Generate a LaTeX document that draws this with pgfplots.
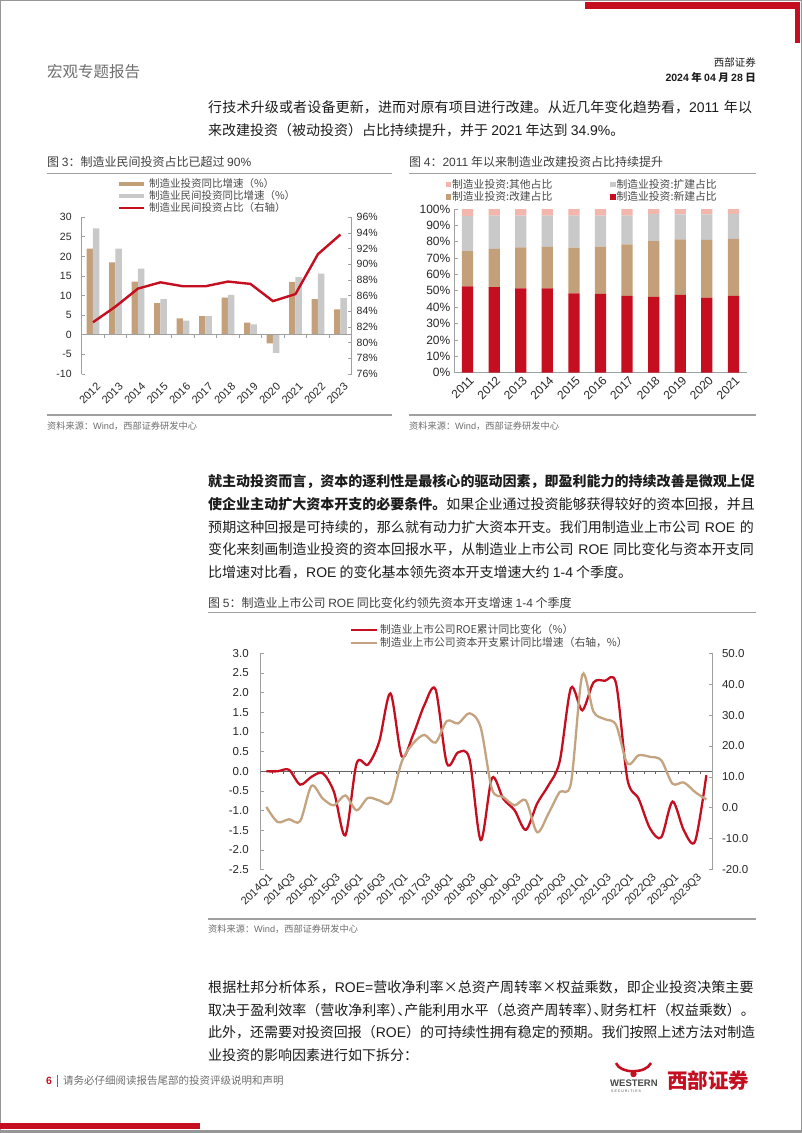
\documentclass[border=0pt]{standalone}
\usepackage{fontspec}
\setmainfont{Liberation Sans}
\newfontfamily\cjk{Noto Sans CJK SC}
\newfontfamily\cjkhalt[RawFeature=+halt]{Noto Sans CJK SC}
\usepackage{pgfplots}
\pgfplotsset{compat=1.18}

\XeTeXlinebreaklocale "zh"
\XeTeXlinebreakskip=0pt plus 1.5pt minus 0.8pt

\definecolor{wred}{RGB}{197,14,31}
\definecolor{tanbar}{RGB}{196,160,122}
\definecolor{lgray}{RGB}{201,201,201}
\definecolor{pinkbar}{RGB}{242,182,172}
\definecolor{tanline}{RGB}{196,164,128}
\definecolor{axisgray}{RGB}{160,160,160}
\definecolor{zerogray}{RGB}{100,100,100}
\definecolor{ink}{RGB}{28,28,28}
\definecolor{ticktext}{RGB}{40,40,40}
\definecolor{softgray}{RGB}{110,110,110}
\definecolor{pagegray}{RGB}{150,150,150}

\newcommand\en[1]{{\rmfamily #1}}
\newcommand\body{\cjk\fontsize{14}{16}\selectfont}
% one justified line of body text
\newcommand\jline[2]{\node[anchor=west,inner sep=0pt,text width=547pt,font=\body,text=ink] at (208,#1) {\noindent\parfillskip=0pt #2\par};}
% last (ragged) line of a paragraph
\newcommand\lline[2]{\node[anchor=west,inner sep=0pt,font=\body,text=ink] at (208,#1) {#2};}

\pgfplotsset{
  chart/.style={
    scale only axis,
    /pgf/number format/assume math mode=true,
    tick label style={font=\fontsize{10.5}{12}\selectfont, text=ticktext},
    separate axis lines,
    axis line style={draw=axisgray, line width=0.8pt},
    tick style={draw=axisgray, line width=0.8pt},
    major tick length=3.5pt,
    tick align=inside,
  },
  catx/.style={
    x axis line style={draw=none},
    xtick style={draw=none},
    xticklabel style={rotate=45, anchor=east, inner sep=1pt},
  },
}

\begin{document}
\begin{tikzpicture}
\begin{scope}[x=1pt,y=-1pt]
\path[use as bounding box] (0,0) rectangle (802,1133);
\fill[white] (0,0) rectangle (802,1133);
\draw[pagegray, line width=1pt] (0.5,0.5) rectangle (801.5,1132.5);
% top decoration
\fill[wred] (585,2) rectangle (800,9);
\fill[wred] (794.5,2) rectangle (800,43);
% header
\node[anchor=west,inner sep=0pt,font=\cjk\fontsize{15.5}{17}\selectfont,text=softgray] at (47,72) {宏观专题报告};
\node[anchor=east,inner sep=0pt,font=\cjk\fontsize{10.5}{12}\selectfont,text=ink] at (756,62) {西部证券};
\node[anchor=east,inner sep=0pt,font=\cjk\bfseries\fontsize{10.5}{12}\selectfont,text=ink] at (756,77) {\en{2024} 年 \en{04} 月 \en{28} 日};

% paragraph 1
\jline{107}{行技术升级或者设备更新，进而对原有项目进行改建。从近几年变化趋势看，\en{2011} 年以}
\lline{130}{来改建投资（被动投资）占比持续提升，并于 \en{2021} 年达到 \en{34.9\%}。}

% figure 3 / 4 frames
\node[anchor=west,inner sep=0pt,font=\cjk\fontsize{12}{13}\selectfont,text=ink!85] at (47,162) {图 \en{3}：制造业民间投资占比已超过 \en{90\%}};
\node[anchor=west,inner sep=0pt,font=\cjk\fontsize{12}{13}\selectfont,text=ink!85] at (409,162) {图 \en{4}：\en{2011} 年以来制造业改建投资占比持续提升};
\draw[axisgray, line width=0.8pt] (47,173.3) -- (392,173.3);
\draw[axisgray, line width=0.8pt] (409,173.3) -- (756,173.3);
\draw[axisgray, line width=1.6pt] (47,415) -- (392,415);
\draw[axisgray, line width=1.6pt] (409,415) -- (756,415);
\node[anchor=west,inner sep=0pt,font=\cjk\fontsize{9.2}{10}\selectfont,text=softgray] at (47,426) {资料来源：\en{Wind}，西部证券研发中心};
\node[anchor=west,inner sep=0pt,font=\cjk\fontsize{9.2}{10}\selectfont,text=softgray] at (409,426) {资料来源：\en{Wind}，西部证券研发中心};

% paragraph 2
\jline{482}{\bfseries 就主动投资而言，资本的逐利性是最核心的驱动因素，即盈利能力的持续改善是微观上促}
\jline{504.5}{{\bfseries 使企业主动扩大资本开支的必要条件。}如果企业通过投资能够获得较好的资本回报，并且}
\jline{527}{预期这种回报是可持续的，那么就有动力扩大资本开支。我们用制造业上市公司 \en{ROE} 的}
\jline{549.5}{变化来刻画制造业投资的资本回报水平，从制造业上市公司 \en{ROE} 同比变化与资本开支同}
\lline{572}{比增速对比看，\en{ROE} 的变化基本领先资本开支增速大约 \en{1-4} 个季度。}

% figure 5 frame
\node[anchor=west,inner sep=0pt,font=\cjk\fontsize{12}{13}\selectfont,text=ink!85] at (208,603) {图 \en{5}：制造业上市公司 \en{ROE} 同比变化约领先资本开支增速 \en{1-4} 个季度};
\draw[axisgray, line width=0.8pt] (208,612.5) -- (756,612.5);
\draw[axisgray, line width=1.6pt] (208,919) -- (756,919);
\node[anchor=west,inner sep=0pt,font=\cjk\fontsize{9.2}{10}\selectfont,text=softgray] at (208,929) {资料来源：\en{Wind}，西部证券研发中心};

% paragraph 3
\jline{987}{根据杜邦分析体系，\en{ROE=}营收净利率×总资产周转率×权益乘数，即企业投资决策主要}
\jline{1010}{取决于盈利效率（营收净利率{\cjkhalt ）、}产能利用水平（总资产周转率{\cjkhalt ）、}财务杠杆（权益乘数）。}
\jline{1032.5}{此外，还需要对投资回报（\en{ROE}）的可持续性拥有稳定的预期。我们按照上述方法对制造}
\lline{1055}{业投资的影响因素进行如下拆分：}

% footer
\node[anchor=west,inner sep=0pt,font=\bfseries\fontsize{10.5}{12}\selectfont,text=wred] at (46,1081) {6};
\draw[softgray, line width=0.9pt] (57,1075) -- (57,1087);
\node[anchor=west,inner sep=0pt,font=\cjk\fontsize{10.5}{12}\selectfont,text=softgray] at (63,1081) {请务必仔细阅读报告尾部的投资评级说明和声明};
\draw[wred, line width=2.6pt] (616,1063) .. controls (620,1074) and (646,1074) .. (651,1063);
\fill[wred] (633.5,1074) circle (3.2pt);
\node[anchor=west,inner sep=0pt,font=\bfseries\fontsize{9.5}{10}\selectfont,text=ink!80] at (610,1083) {WESTERN};
\node[anchor=west,inner sep=0pt,font=\fontsize{3.5}{4}\selectfont,text=ink!80] at (611,1091) {S E C U R I T I E S};
\node[anchor=west,inner sep=0pt,font=\cjk\bfseries\fontsize{20.5}{22}\selectfont,text=wred] at (667,1081) {西部证券};
% bottom decoration
\fill[wred] (0,1123) rectangle (200,1129);
\fill[pagegray] (0,1129.5) rectangle (802,1131.5);
\end{scope}

% ---------- Figure 3 ----------
\begin{axis}[chart, catx,
  at={(81.7pt,-374pt)}, anchor=south west,
  width=270pt, height=156.7pt,
  xmin=-0.5, xmax=11.5, ymin=-10, ymax=30,
  axis lines*=left,
  xtick={0,...,11},
  xticklabels={2012,2013,2014,2015,2016,2017,2018,2019,2020,2021,2022,2023},
  xticklabel style={font=\fontsize{11}{12}\selectfont, yshift=-9pt},
  ytick={-10,-5,...,30},
  yticklabel style={xshift=-6.5pt},
  ybar=0pt, bar width=6.3pt,
]
\addplot[fill=tanbar, draw=none] coordinates {(0,22.0)(1,18.5)(2,13.6)(3,8.1)(4,4.2)(5,4.8)(6,9.5)(7,3.1)(8,-2.2)(9,13.5)(10,9.1)(11,6.5)};
\addplot[fill=lgray, draw=none] coordinates {(0,27.2)(1,22.0)(2,16.9)(3,9.1)(4,3.6)(5,4.8)(6,10.2)(7,2.7)(8,-4.6)(9,14.7)(10,15.6)(11,9.4)};
\draw[axisgray, line width=0.8pt] (axis cs:-0.5,0) -- (axis cs:11.5,0);
\pgfplotsinvokeforeach{0,...,10}{\draw[axisgray, line width=0.8pt] (axis cs:#1.5,0) -- ++(0pt,-3pt);}
\end{axis}
\begin{axis}[chart,
  at={(81.7pt,-374pt)}, anchor=south west,
  width=270pt, height=156.7pt,
  xmin=-0.5, xmax=11.5, ymin=76, ymax=96,
  axis y line*=right, axis x line=none,
  ytick={76,78,...,96},
  yticklabel={\pgfmathprintnumber{\tick}\%},
  yticklabel style={xshift=1.5pt},
  legend cell align=left,
  legend style={at={(0.133,1.252)}, anchor=north west, draw=none, fill=none,
    inner sep=0pt, row sep=0pt, nodes={inner sep=0.8pt},
    /tikz/every odd column/.append style={column sep=3pt},
    font=\cjk\fontsize{10.5}{11}\selectfont, text=ink!80},
]
\addlegendimage{fill=tanbar, draw=none, legend image code/.code={\fill (0pt,-2.2pt) rectangle (25pt,2.2pt);}}
\addlegendentry{制造业投资同比增速（\%）}
\addlegendimage{fill=lgray, draw=none, legend image code/.code={\fill (0pt,-2.2pt) rectangle (25pt,2.2pt);}}
\addlegendentry{制造业民间投资同比增速（\%）}
\addplot[wred, line width=2.4pt, legend image code/.code={\draw (0pt,0pt) -- (25pt,0pt);}] coordinates {(0,82.6)(1,84.6)(2,86.9)(3,87.7)(4,87.2)(5,87.2)(6,87.8)(7,87.5)(8,85.3)(9,86.2)(10,91.3)(11,93.8)};
\addlegendentry{制造业民间投资占比（右轴）}
\end{axis}

% ---------- Figure 4 ----------
\begin{axis}[chart,
  at={(454.3pt,-372.7pt)}, anchor=south west,
  width=292.4pt, height=163.7pt,
  ybar stacked, bar width=11.3pt,
  xmin=-0.5, xmax=10.5, ymin=0, ymax=100,
  axis lines*=left,
  xtick={0,...,10},
  xticklabels={2011,2012,2013,2014,2015,2016,2017,2018,2019,2020,2021},
  xtick style={draw=none},
  xticklabel style={rotate=45, anchor=east, inner sep=1pt, font=\fontsize{12}{13}\selectfont, yshift=-7pt},
  ytick={0,10,...,100},
  yticklabel={\pgfmathprintnumber{\tick}\%},
  yticklabel style={font=\fontsize{12}{13}\selectfont, xshift=-0.5pt},
  reverse legend, legend columns=2, legend cell align=left,
  legend style={at={(-0.03,1.187)}, anchor=north west, draw=none, fill=none,
    inner sep=0pt, row sep=0pt, nodes={inner sep=0.8pt},
    /tikz/every even column/.append style={column sep=57pt},
    font=\cjk\fontsize{10.8}{11}\selectfont, text=ink!80},
  legend image code/.code={\fill (0pt,-2.8pt) rectangle (5.6pt,2.8pt);},
]
\addplot[fill=wred, draw=none] coordinates {(0,52.8)(1,52.3)(2,51.5)(3,51.5)(4,48.5)(5,48.1)(6,47.0)(7,46.4)(8,47.5)(9,45.8)(10,46.9)};
\addlegendentry{制造业投资:新建占比}
\addplot[fill=tanbar, draw=none] coordinates {(0,21.5)(1,23.3)(2,25.1)(3,25.3)(4,27.9)(5,28.9)(6,31.4)(7,34.0)(8,34.0)(9,35.3)(10,34.9)};
\addlegendentry{制造业投资:改建占比}
\addplot[fill=lgray, draw=none] coordinates {(0,21.4)(1,20.3)(2,19.3)(3,19.1)(4,19.5)(5,18.9)(6,17.5)(7,16.5)(8,15.2)(9,15.6)(10,15.2)};
\addlegendentry{制造业投资:扩建占比}
\addplot[fill=pinkbar, draw=none] coordinates {(0,4.3)(1,4.1)(2,4.1)(3,4.1)(4,4.1)(5,4.1)(6,4.1)(7,3.1)(8,3.3)(9,3.3)(10,3.0)};
\addlegendentry{制造业投资:其他占比}
\draw[axisgray, line width=0.8pt] (axis cs:-0.5,0) -- ++(0pt,-3.5pt);
\pgfplotsinvokeforeach{0,...,10}{\draw[axisgray, line width=0.8pt] (axis cs:#1.5,0) -- ++(0pt,-3.5pt);}
\end{axis}

% ---------- Figure 5 ----------
\begin{axis}[chart, catx,
  at={(260.7pt,-869.6pt)}, anchor=south west,
  width=451.3pt, height=216.3pt,
  xmin=-0.5, xmax=39.5, ymin=-2.5, ymax=3,
  axis lines*=left,
  xtick={0,2,...,38},
  xticklabels={2014Q1,2014Q3,2015Q1,2015Q3,2016Q1,2016Q3,2017Q1,2017Q3,2018Q1,2018Q3,2019Q1,2019Q3,2020Q1,2020Q3,2021Q1,2021Q3,2022Q1,2022Q3,2023Q1,2023Q3},
  xticklabel style={font=\fontsize{11}{12}\selectfont, yshift=-8pt},
  ytick={-2.5,-2,...,3},
  yticklabel style={font=\fontsize{11.5}{12}\selectfont, xshift=-8.5pt, /pgf/number format/.cd, fixed, fixed zerofill, precision=1},
]
\draw[zerogray, line width=0.8pt] (axis cs:-0.5,0) -- (axis cs:39.5,0);
\draw[zerogray, line width=0.8pt] (axis cs:-0.5,0) -- ++(0pt,-3pt);
\pgfplotsinvokeforeach{0,...,39}{\draw[zerogray, line width=0.8pt] (axis cs:#1.5,0) -- ++(0pt,-3pt);}
\addplot[wred, line width=2.3pt, smooth] coordinates {(0,0.00)(1,0.00)(2,0.04)(3,-0.34)(4,-0.14)(5,-0.05)(6,-0.53)(7,-1.63)(8,0.20)(9,0.17)(10,0.75)(11,1.98)(12,0.38)(13,0.92)(14,1.68)(15,2.08)(16,0.20)(17,0.48)(18,0.32)(19,-1.75)(20,-0.17)(21,-0.70)(22,-0.99)(23,-1.49)(24,-0.82)(25,-0.36)(26,0.25)(27,2.12)(28,1.55)(29,2.26)(30,2.30)(31,2.23)(32,-0.20)(33,-0.70)(34,-1.45)(35,-1.68)(36,-0.77)(37,-1.50)(38,-1.78)(39,-0.10)};
\end{axis}
\begin{axis}[chart,
  at={(260.7pt,-869.6pt)}, anchor=south west,
  width=451.3pt, height=216.3pt,
  xmin=-0.5, xmax=39.5, ymin=-20, ymax=50,
  axis y line*=right, axis x line=none,
  ytick={-20,-10,...,50},
  yticklabel style={font=\fontsize{11.5}{12}\selectfont, xshift=6.5pt, /pgf/number format/.cd, fixed, fixed zerofill, precision=1},
  legend cell align=left,
  legend style={at={(0.196,1.137)}, anchor=north west, draw=none, fill=none,
    inner sep=0pt, row sep=0.6pt, nodes={inner sep=0.8pt},
    /tikz/every odd column/.append style={column sep=1.5pt},
    font=\cjk\fontsize{10.8}{11}\selectfont, text=ink!80},
  legend image code/.code={\draw (0pt,0pt) -- (26pt,0pt);},
]
\addlegendimage{wred, line width=2.5pt}
\addlegendentry{制造业上市公司ROE累计同比变化（\%）}
\addplot[tanline, line width=2.3pt, smooth] coordinates {(0,0.3)(1,-4.6)(2,-3.7)(3,-4.3)(4,7.1)(5,3.0)(6,0.8)(7,4.0)(8,-0.8)(9,3.2)(10,2.4)(11,1.9)(12,14.9)(13,20.8)(14,23.6)(15,21.1)(16,28.1)(17,27.3)(18,30.6)(19,26.0)(20,6.0)(21,3.5)(22,0.8)(23,2.4)(24,-7.9)(25,-1.9)(26,5.1)(27,8.0)(28,43.0)(29,31.1)(30,28.7)(31,26.8)(32,14.3)(33,17.0)(34,16.5)(35,15.4)(36,7.8)(37,8.2)(38,5.1)(39,2.7)};
\addlegendentry{制造业上市公司资本开支累计同比增速（右轴，\%）}
\end{axis}
\end{tikzpicture}
\end{document}
